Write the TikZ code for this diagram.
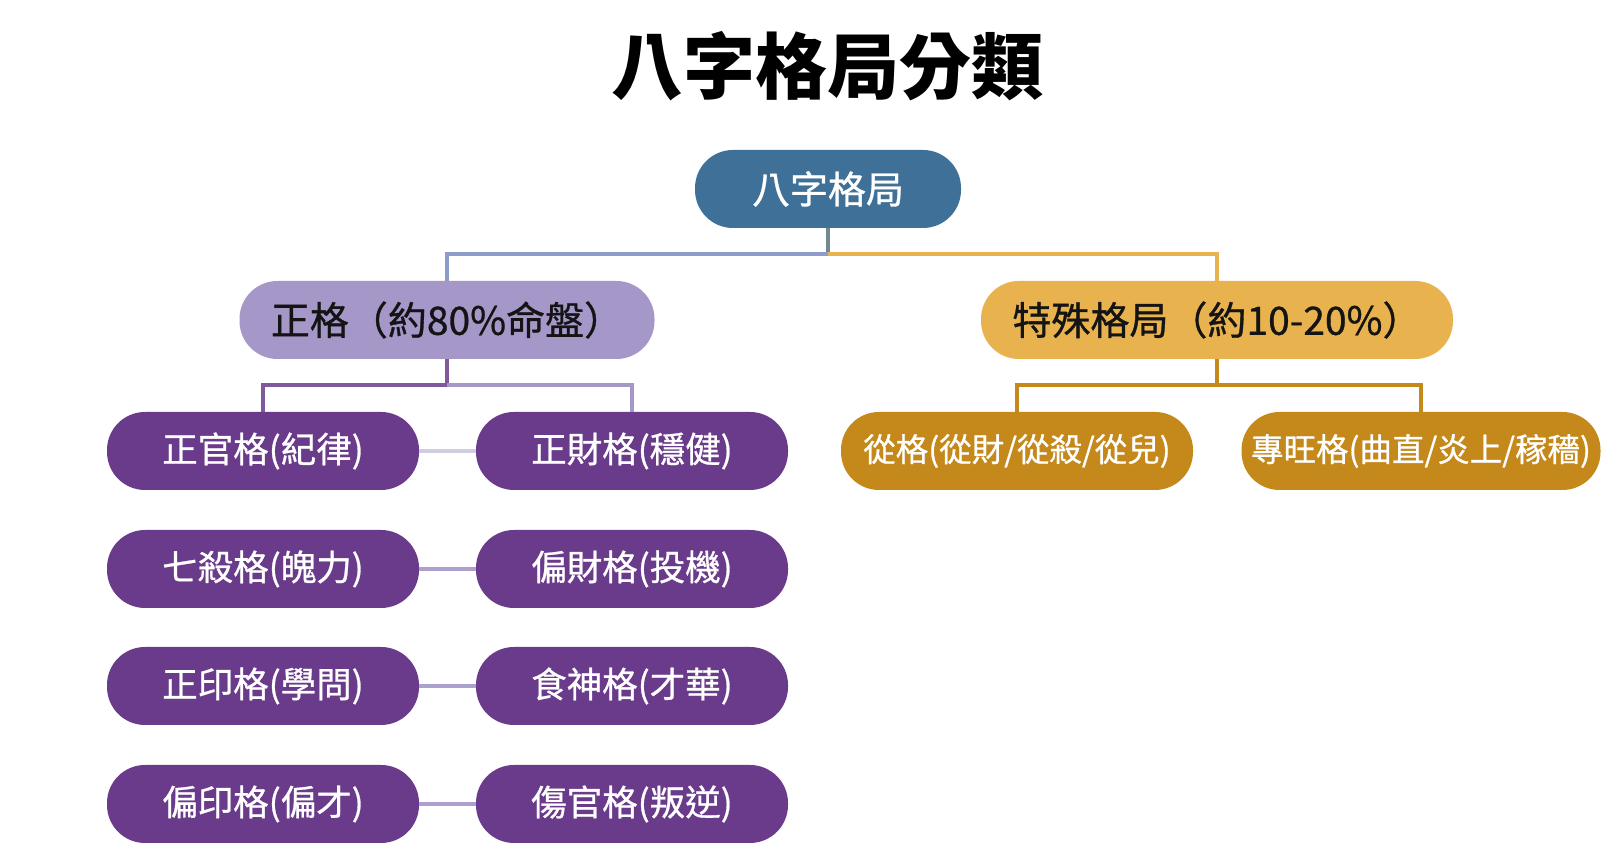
\documentclass[tikz,border=0pt]{standalone}
\usepackage{fontspec}
\newfontfamily\cjk{Noto Sans CJK TC}
\newfontfamily\cjkmid[FakeBold=0.8]{Noto Sans CJK TC}
\usepackage{xcolor}
\usetikzlibrary{positioning}

\definecolor{rootblue}{HTML}{3F7098}
\definecolor{zhenglav}{HTML}{A697C9}
\definecolor{teshugold}{HTML}{E8B24E}
\definecolor{deeppurple}{HTML}{6A3B8B}
\definecolor{deepgold}{HTML}{C4891A}
\definecolor{stemgray}{HTML}{6F8A93}
\definecolor{bluelav}{HTML}{8C9CCB}
\definecolor{pairlav}{HTML}{ADA0CF}

\tikzset{
  pill/.style={rectangle, rounded corners=38pt, minimum height=78pt, inner sep=0pt, text=white},
  purplepill/.style={pill, fill=deeppurple, minimum width=312pt, font=\cjkmid\fontsize{35.5}{40}\selectfont},
  goldpill/.style={pill, fill=deepgold, font=\cjkmid\fontsize{32.5}{38}\selectfont},
  link/.style={line width=3.5pt}
}

\begin{document}
\begin{tikzpicture}[x=1pt, y=1pt]
        \useasboundingbox[fill=white] (0,0) rectangle (1610,859);
        
        \node[font=\cjk\bfseries\fontsize{72}{80}\selectfont] (title) at (827,793) {八字格局分類};
        
        \node[pill, fill=rootblue, minimum width=266pt, font=\cjkmid\fontsize{38}{44}\selectfont] (root) at (828,670) {八字格局};
        \node[pill, fill=zhenglav, text=black!92, minimum width=415pt, font=\cjkmid\fontsize{39}{44}\selectfont] (zhengge) at (447,539) {正格（約80\%命盤）};
        \node[pill, fill=teshugold, text=black!92, minimum width=472pt, font=\cjkmid\fontsize{39}{44}\selectfont] (teshu) at (1217,539) {特殊格局（約10-20\%）};
        
        % top branch
        \coordinate (rbus) at (828,605);
        \draw[link, stemgray] (root.south) -- (rbus);
        \draw[link, bluelav] (rbus) -| (zhengge.north);
        \draw[link, teshugold] (rbus) -| (teshu.north);
        
        % ordinary patterns
        \foreach \i/\yy/\ltext/\rtext/\shade in {1/408/正官格(紀律)/正財格(穩健)/55, 2/290/七殺格(魄力)/偏財格(投機)/100, 3/173/正印格(學問)/食神格(才華)/100, 4/55/偏印格(偏才)/傷官格(叛逆)/100} {
            \node[purplepill] (l\i) at (263,\yy) {\ltext};
            \node[purplepill] (r\i) at (632,\yy) {\rtext};
            \draw[link, pairlav!\shade] (l\i.east) -- (r\i.west);
        }
        \coordinate (zbus) at (447,474);
        \draw[link, deeppurple!85] (zhengge.south) -- (zbus);
        \draw[link, deeppurple!85] (zbus) -| (l1.north);
        \draw[link, zhenglav] (zbus) -| (r1.north);
        
        % special patterns
        \node[goldpill, minimum width=352pt] (g1) at (1017,408) {從格(從財/從殺/從兒)};
        \node[goldpill, minimum width=359pt] (g2) at (1421,408) {專旺格(曲直/炎上/稼穡)};
        \coordinate (tbus) at (1217,474);
        \draw[link, deepgold] (teshu.south) -- (tbus);
        \draw[link, deepgold] (tbus) -| (g1.north);
        \draw[link, deepgold] (tbus) -| (g2.north);
    \end{tikzpicture}
\end{document}
